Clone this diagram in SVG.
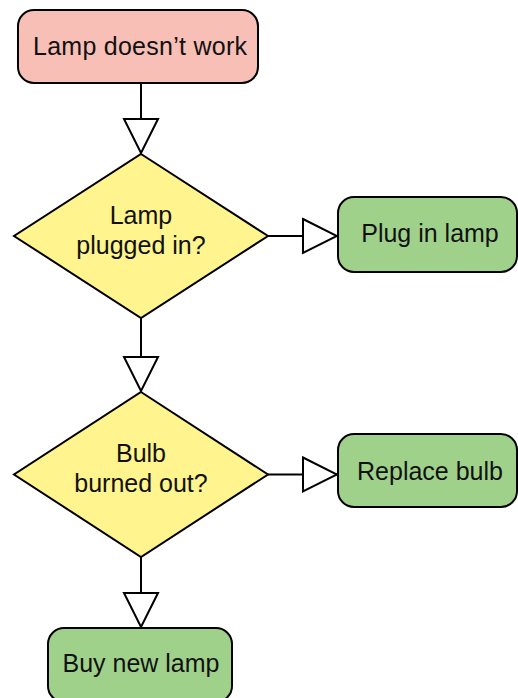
<svg xmlns="http://www.w3.org/2000/svg" width="518" height="698" viewBox="0 0 518 698">
<style>
.n{stroke:#000;stroke-width:2}
.start{fill:#f8bfb6}
.end{fill:#a0d18b}
.dec{fill:#fff48d}
.t{font-family:"Liberation Sans",Arial,sans-serif;font-size:25px;fill:#111;text-anchor:middle}
.c{stroke:#000;stroke-width:2;fill:none;marker-end:url(#tri)}
</style>
<defs>
<marker id="tri" viewBox="-2 -2 38 38" markerWidth="38" markerHeight="38" refX="34" refY="17" orient="auto" markerUnits="userSpaceOnUse">
<path d="M0,0 L34,17 L0,34 Z" fill="#fff" stroke="#000" stroke-width="2" stroke-linejoin="miter"/>
</marker>
</defs>
<rect width="518" height="698" fill="#fff"/>
<g id="connectors">
<path class="c" d="M141,83 V153"/>
<path class="c" d="M141,318 V391"/>
<path class="c" d="M141,557 V627"/>
<path class="c" d="M268,236 H337"/>
<path class="c" d="M268,474.5 H337"/>
</g>
<g id="start">
<rect class="n start" x="18" y="10" width="240" height="73" rx="16"/>
<text class="t" x="140" y="55" textLength="214" lengthAdjust="spacing">Lamp doesn’t work</text>
</g>
<g id="plugged">
<polygon class="n dec" points="141,154 268,236 141,318 14,236"/>
<text class="t" x="141" y="224">Lamp</text>
<text class="t" x="141" y="254">plugged in?</text>
</g>
<g id="plug">
<rect class="n end" x="338" y="197" width="179" height="75" rx="16"/>
<text class="t" x="430" y="242">Plug in lamp</text>
</g>
<g id="bulb">
<polygon class="n dec" points="141,392 268,474.5 141,557 14,474.5"/>
<text class="t" x="141" y="462">Bulb</text>
<text class="t" x="141" y="492">burned out?</text>
</g>
<g id="replace">
<rect class="n end" x="338" y="434" width="179" height="73" rx="16"/>
<text class="t" x="430" y="480">Replace bulb</text>
</g>
<g id="buy">
<rect class="n end" x="48" y="628" width="184" height="74" rx="16"/>
<text class="t" x="141" y="672">Buy new lamp</text>
</g>
</svg>
